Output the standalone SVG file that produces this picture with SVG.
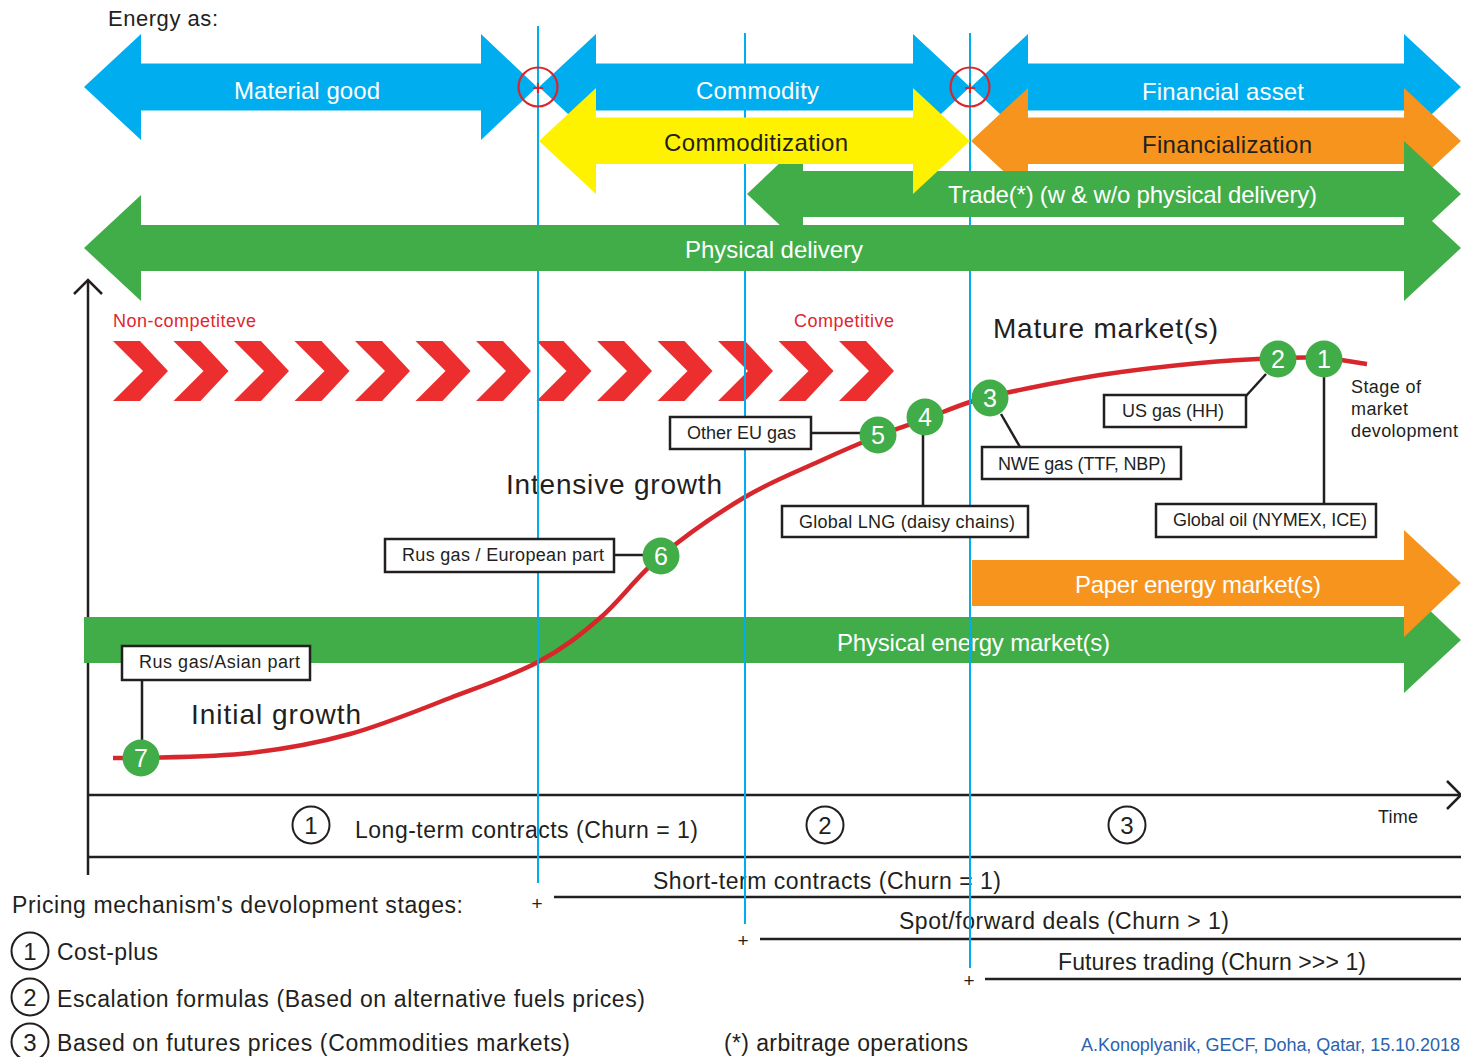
<svg xmlns="http://www.w3.org/2000/svg" width="1461" height="1057" viewBox="0 0 1461 1057">
<style>
text{font-family:"Liberation Sans",Arial,sans-serif;fill:#231F20}
.w{fill:#fff;font-size:24px}
.k{font-size:24px}
.red{fill:#E0262E;font-size:18px}
.big{font-size:28px}
.box rect{fill:#fff;stroke:#231F20;stroke-width:2.5}
.box text{font-size:18px}
.lead{stroke:#231F20;stroke-width:2.5;fill:none}
.node circle{fill:#40AD48}
.node text{fill:#fff;font-size:25px;text-anchor:middle}
.vline{stroke:#00AEEF;stroke-width:2}
.ax{stroke:#231F20;stroke-width:2.5;fill:none}
.tb{font-size:23px}
.oc{fill:#fff;stroke:#231F20;stroke-width:2}
.cn{font-size:24px;text-anchor:middle}
.plus{font-size:19px;text-anchor:middle}
.tgt{fill:none;stroke:#D7262C;stroke-width:2.2}
</style>
<defs>
<polygon id="chev" points="0,0 27,0 55,30 27,60 0,60 30,30" fill="#ED2E2F"/>
</defs>

<!-- chevrons -->
<g id="chevrons">
<use href="#chev" x="113" y="341"/>
<use href="#chev" x="173.5" y="341"/>
<use href="#chev" x="234" y="341"/>
<use href="#chev" x="294.5" y="341"/>
<use href="#chev" x="355" y="341"/>
<use href="#chev" x="415.5" y="341"/>
<use href="#chev" x="476" y="341"/>
<use href="#chev" x="536.5" y="341"/>
<use href="#chev" x="597" y="341"/>
<use href="#chev" x="657.5" y="341"/>
<use href="#chev" x="718" y="341"/>
<use href="#chev" x="778.5" y="341"/>
<use href="#chev" x="839" y="341"/>
</g>
<text class="red" x="113" y="327" textLength="143">Non-competiteve</text>
<text class="red" x="794" y="327" textLength="100">Competitive</text>

<!-- axes -->
<g id="axes">
<line class="ax" x1="88" y1="280" x2="88" y2="875"/>
<polyline class="ax" points="74,294 88,280 102,294"/>
<line class="ax" x1="88" y1="795" x2="1459" y2="795"/>
<polyline class="ax" points="1447,781 1461,795 1447,809"/>
<line class="ax" x1="88" y1="857" x2="1461" y2="857"/>
<line class="ax" x1="554" y1="897" x2="1461" y2="897"/>
<line class="ax" x1="760" y1="939" x2="1461" y2="939"/>
<line class="ax" x1="985" y1="979" x2="1461" y2="979"/>
</g>

<!-- lower bars -->
<g id="physical-energy-market">
<polygon fill="#41AD49" points="84,617 1404,617 1404,586 1461,640 1404,693 1404,663 84,663"/>
<text class="w" x="837" y="651" textLength="273">Physical energy market(s)</text>
</g>
<g id="paper-energy-market">
<polygon fill="#F7941D" points="972,560 1404,560 1404,530 1461,583 1404,637 1404,606 972,606"/>
<text class="w" x="1075" y="593" textLength="246">Paper energy market(s)</text>
</g>

<!-- curve -->
<path id="curve" fill="none" stroke="#D7262C" stroke-width="4.5" d="M113,758 L141,758 C163.8,757.2 215.2,757 250,753 C284.8,749 316.7,743.2 350,734 C383.3,724.8 418.7,710 450,698 C481.3,686 513,675.3 538,662 C563,648.7 579.5,635.7 600,618 C620.5,600.3 636.8,576.2 661,556 C685.2,535.8 718.5,512.8 745,497 C771.5,481.2 797.8,471.2 820,461 C842.2,450.8 860.5,443 878,436 C895.5,429 909.7,424.7 925,419 C940.3,413.3 955.8,406.5 970,402 C984.2,397.5 988.3,396.5 1010,392 C1031.7,387.5 1068.3,379.8 1100,375 C1131.7,370.2 1170.3,365.8 1200,363 C1229.7,360.2 1257.3,358.8 1278,358 C1298.7,357.2 1309.2,357 1324,358 C1338.8,359 1359.8,363 1367,364"/>

<!-- labels -->
<text x="108" y="26" font-size="22" textLength="110">Energy as:</text>
<text class="big" x="993" y="338" textLength="225">Mature market(s)</text>
<text class="big" x="506" y="494" textLength="216">Intensive growth</text>
<text class="big" x="191" y="724" textLength="170">Initial growth</text>
<text x="1351" y="393" font-size="18" textLength="70">Stage of</text>
<text x="1351" y="415" font-size="18" textLength="57">market</text>
<text x="1351" y="437" font-size="18" textLength="107">devolopment</text>
<text x="1378" y="823" font-size="18" textLength="40">Time</text>

<!-- table -->
<g id="stage-1"><circle class="oc" cx="311" cy="825" r="18.5"/><text class="cn" x="311" y="834">1</text></g>
<g id="stage-2"><circle class="oc" cx="825" cy="825" r="18.5"/><text class="cn" x="825" y="834">2</text></g>
<g id="stage-3"><circle class="oc" cx="1127" cy="825" r="18.5"/><text class="cn" x="1127" y="834">3</text></g>
<text class="tb" x="355" y="838" textLength="343">Long-term contracts (Churn = 1)</text>
<text class="tb" x="653" y="889" textLength="348">Short-term contracts (Churn = 1)</text>
<text class="tb" x="899" y="929" textLength="330">Spot/forward deals (Churn &gt; 1)</text>
<text class="tb" x="1058" y="970" textLength="308">Futures trading (Churn &gt;&gt;&gt; 1)</text>
<text class="plus" x="537" y="910">+</text>
<text class="plus" x="743" y="947">+</text>
<text class="plus" x="969" y="987">+</text>

<!-- legend -->
<text class="tb" x="12" y="913" textLength="451">Pricing mechanism's devolopment stages:</text>
<g id="legend-1"><circle class="oc" cx="30" cy="951" r="18.5"/><text class="cn" x="30" y="960">1</text><text class="tb" x="57" y="960" textLength="101">Cost-plus</text></g>
<g id="legend-2"><circle class="oc" cx="30" cy="997" r="18.5"/><text class="cn" x="30" y="1006">2</text><text class="tb" x="57" y="1007" textLength="588">Escalation formulas (Based on alternative fuels prices)</text></g>
<g id="legend-3"><circle class="oc" cx="30" cy="1042" r="18.5"/><text class="cn" x="30" y="1051">3</text><text class="tb" x="57" y="1051" textLength="513">Based on futures prices (Commodities markets)</text></g>
<text class="tb" x="724" y="1051" textLength="244">(*) arbitrage operations</text>
<text x="1081" y="1051" font-size="18" style="fill:#2B63AE" textLength="379">A.Konoplyanik, GECF, Doha, Qatar, 15.10.2018</text>

<!-- vertical stage lines -->
<g id="stage-lines">
<line class="vline" x1="538" y1="26" x2="538" y2="883"/>
<line class="vline" x1="745" y1="33" x2="745" y2="924"/>
<line class="vline" x1="970" y1="33" x2="970" y2="968"/>
</g>

<!-- connectors -->
<g id="connectors">
<polyline class="lead" points="142,680 142,742"/>
<polyline class="lead" points="614,555 645,555"/>
<polyline class="lead" points="811,433 861,433"/>
<polyline class="lead" points="923,434 923,506"/>
<polyline class="lead" points="1001,414 1020,447"/>
<polyline class="lead" points="1246,396 1266,374"/>
<polyline class="lead" points="1324,376 1324,504"/>
</g>

<!-- label boxes -->
<g id="box-rus-asian" class="box"><rect x="122" y="646" width="188" height="34"/><text x="139" y="668" textLength="161">Rus gas/Asian part</text></g>
<g id="box-rus-european" class="box"><rect x="385" y="539" width="229" height="33"/><text x="402" y="561" textLength="202">Rus gas / European part</text></g>
<g id="box-other-eu" class="box"><rect x="670" y="417" width="141" height="32"/><text x="687" y="439" textLength="109">Other EU gas</text></g>
<g id="box-global-lng" class="box"><rect x="782" y="506" width="246" height="31"/><text x="799" y="528" textLength="216">Global LNG (daisy chains)</text></g>
<g id="box-nwe" class="box"><rect x="982" y="447" width="199" height="32"/><text x="998" y="470" textLength="168">NWE gas (TTF, NBP)</text></g>
<g id="box-us" class="box"><rect x="1104" y="395" width="142" height="32"/><text x="1122" y="417" textLength="102">US gas (HH)</text></g>
<g id="box-global-oil" class="box"><rect x="1156" y="504" width="220" height="33"/><text x="1173" y="526" textLength="194">Global oil (NYMEX, ICE)</text></g>

<!-- nodes -->
<g id="node-7" class="node"><circle cx="141" cy="758" r="18.5"/><text x="141" y="767">7</text></g>
<g id="node-6" class="node"><circle cx="661" cy="556" r="18.5"/><text x="661" y="565">6</text></g>
<g id="node-5" class="node"><circle cx="878" cy="435" r="18.5"/><text x="878" y="444">5</text></g>
<g id="node-4" class="node"><circle cx="925" cy="417" r="18.5"/><text x="925" y="426">4</text></g>
<g id="node-3" class="node"><circle cx="990" cy="398" r="18.5"/><text x="990" y="407">3</text></g>
<g id="node-2" class="node"><circle cx="1278" cy="359" r="18.5"/><text x="1278" y="368">2</text></g>
<g id="node-1" class="node"><circle cx="1324" cy="359" r="18.5"/><text x="1324" y="368">1</text></g>

<!-- top arrows -->
<g id="material-good">
<polygon fill="#00AEEF" points="84,87 141,34 141,63.5 481,63.5 481,34 537,87 481,140 481,110.5 141,110.5 141,140"/>
<text class="w" x="234" y="99" textLength="146">Material good</text>
</g>
<g id="commodity">
<polygon fill="#00AEEF" points="539,87 596,34 596,63.5 913,63.5 913,34 970,87 913,140 913,110.5 596,110.5 596,140"/>
<text class="w" x="696" y="99" textLength="123">Commodity</text>
</g>
<g id="financial-asset">
<polygon fill="#00AEEF" points="971,87 1028,34 1028,63.5 1404,63.5 1404,34 1461,87 1404,140 1404,110.5 1028,110.5 1028,140"/>
<text class="w" x="1142" y="100" textLength="162">Financial asset</text>
</g>
<g id="financialization">
<polygon fill="#F7941D" points="971,141 1028,88 1028,117.5 1404,117.5 1404,88 1461,141 1404,194 1404,164 1028,164 1028,194"/>
<text class="k" x="1142" y="153" textLength="170">Financialization</text>
</g>
<g id="physical-delivery">
<polygon fill="#41AD49" points="84,248 141,195 141,225 1404,225 1404,195 1461,248 1404,301 1404,271 141,271 141,301"/>
<text class="w" x="685" y="258" textLength="178">Physical delivery</text>
</g>
<g id="trade">
<polygon fill="#41AD49" points="747,194 803,141 803,171 1404,171 1404,141 1461,194 1404,247 1404,217 803,217 803,247"/>
<text class="w" x="948" y="203" textLength="369">Trade(*) (w &amp; w/o physical delivery)</text>
</g>
<g id="commoditization">
<polygon fill="#FFF200" points="539,141 596,88 596,117.5 913,117.5 913,88 970,141 913,194 913,164 596,164 596,194"/>
<text class="k" x="664" y="151" textLength="184">Commoditization</text>
</g>

<!-- transition markers -->
<g id="transition-1"><circle class="tgt" cx="538" cy="87" r="19.5"/><path class="tgt" d="M533,88 H543 M538,83 V93"/></g>
<g id="transition-2"><circle class="tgt" cx="970" cy="87" r="19.5"/><path class="tgt" d="M965,88 H975 M970,83 V93"/></g>
</svg>
